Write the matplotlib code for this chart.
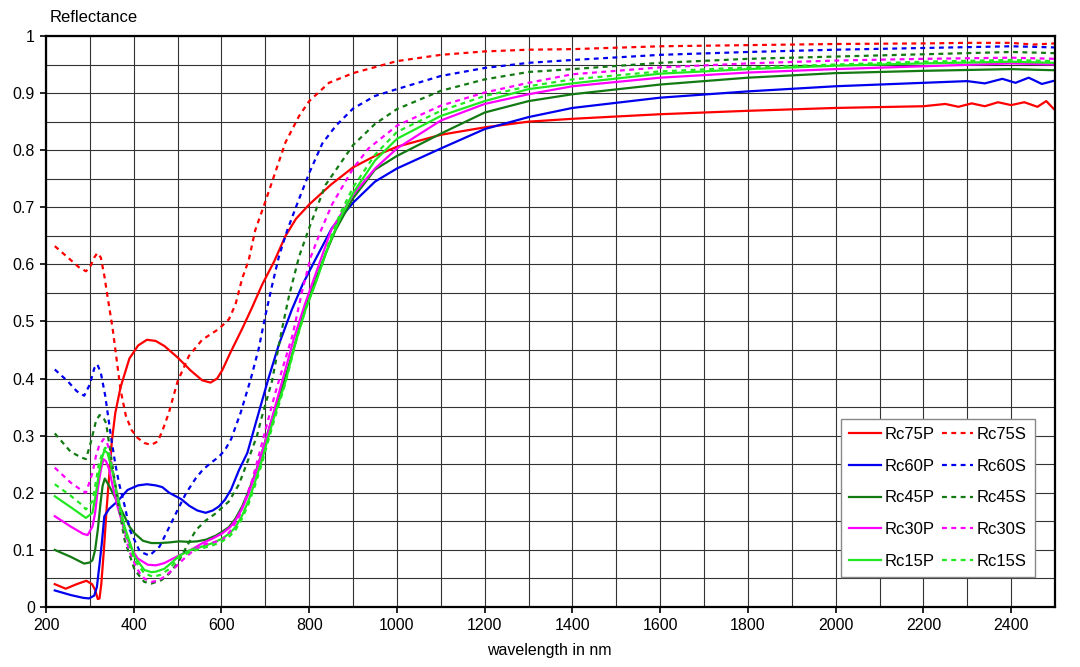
import matplotlib
matplotlib.use("Agg")
import matplotlib.pyplot as plt
from matplotlib.ticker import MultipleLocator, FuncFormatter

plt.rcParams['font.family'] = ['Liberation Sans', 'DejaVu Sans']

# ---------------- data (wavelength nm, reflectance) ----------------
wl_75P = [220, 245, 270, 292, 305, 312, 318, 322, 326, 332, 338, 344, 350, 358, 370, 390, 410, 430, 450, 470,
          500, 530, 556, 575, 590, 602, 620, 647, 670, 693, 720, 746, 770, 800, 850, 900, 950, 1000, 1100, 1200,
          1300, 1400, 1600, 1800, 2000, 2200, 2250, 2280, 2310, 2340, 2370, 2400, 2430, 2460, 2480, 2500]
r_75P = [0.040, 0.032, 0.040, 0.046, 0.040, 0.030, 0.014, 0.015, 0.040, 0.100, 0.170, 0.230, 0.290, 0.340, 0.385,
         0.435, 0.458, 0.468, 0.466, 0.457, 0.437, 0.414, 0.397, 0.393, 0.400, 0.415, 0.445, 0.487, 0.525, 0.565,
         0.605, 0.650, 0.680, 0.705, 0.740, 0.770, 0.790, 0.806, 0.827, 0.840, 0.850, 0.855, 0.863, 0.869, 0.874,
         0.877, 0.881, 0.876, 0.882, 0.877, 0.884, 0.879, 0.884, 0.876, 0.886, 0.870]

wl_75S = [220, 250, 275, 291, 300, 310, 317, 325, 333, 340, 352, 370, 382, 395, 409, 425, 440, 455, 466, 480,
          489, 500, 526, 556, 594, 617, 632, 647, 662, 677, 700, 723, 746, 777, 800, 845, 900, 1000, 1100, 1200,
          1300, 1400, 1600, 1800, 2000, 2200, 2300, 2400, 2450, 2500]
r_75S = [0.632, 0.612, 0.595, 0.588, 0.595, 0.612, 0.620, 0.612, 0.580, 0.545, 0.487, 0.380, 0.335, 0.310, 0.296,
         0.287, 0.284, 0.290, 0.310, 0.340, 0.365, 0.395, 0.440, 0.468, 0.487, 0.504, 0.530, 0.575, 0.607, 0.660,
         0.710, 0.762, 0.814, 0.860, 0.886, 0.918, 0.935, 0.956, 0.967, 0.973, 0.976, 0.977, 0.982, 0.984, 0.986,
         0.987, 0.988, 0.988, 0.985, 0.987]

wl_60P = [220, 256, 285, 298, 310, 316, 322, 327, 333, 344, 363, 386, 410, 430, 450, 465, 481, 508, 527, 545,
          564, 580, 594, 608, 622, 640, 659, 681, 707, 731, 760, 785, 815, 852, 900, 950, 1000, 1100, 1200, 1300,
          1400, 1600, 1800, 2000, 2200, 2300, 2340, 2380, 2410, 2440, 2470, 2500]
r_60P = [0.029, 0.021, 0.016, 0.015, 0.020, 0.035, 0.075, 0.110, 0.159, 0.172, 0.185, 0.205, 0.213, 0.215, 0.213,
         0.210, 0.200, 0.189, 0.177, 0.169, 0.165, 0.169, 0.176, 0.188, 0.206, 0.240, 0.270, 0.330, 0.400, 0.460,
         0.520, 0.565, 0.610, 0.664, 0.708, 0.745, 0.768, 0.803, 0.837, 0.858, 0.874, 0.892, 0.903, 0.912, 0.918,
         0.921, 0.917, 0.925, 0.918, 0.927, 0.916, 0.922]

wl_60S = [220, 250, 270, 287, 300, 310, 317, 325, 335, 348, 358, 367, 380, 391, 414, 436, 459, 481, 500, 519,
          541, 557, 575, 594, 608, 622, 644, 667, 685, 700, 715, 731, 750, 777, 800, 830, 861, 900, 950, 1000,
          1100, 1200, 1300, 1400, 1600, 1800, 2000, 2200, 2400, 2500]
r_60S = [0.416, 0.395, 0.378, 0.370, 0.390, 0.418, 0.425, 0.410, 0.370, 0.299, 0.250, 0.215, 0.175, 0.135, 0.097,
         0.090, 0.106, 0.140, 0.170, 0.199, 0.225, 0.240, 0.252, 0.263, 0.275, 0.294, 0.341, 0.400, 0.453, 0.510,
         0.562, 0.614, 0.660, 0.715, 0.760, 0.812, 0.843, 0.873, 0.895, 0.907, 0.930, 0.944, 0.953, 0.958, 0.967,
         0.972, 0.976, 0.979, 0.982, 0.980]

wl_45P = [220, 256, 287, 300, 306, 312, 318, 324, 329, 334, 341, 348, 360, 371, 391, 402, 421, 440, 459, 480,
          504, 526, 545, 565, 587, 602, 617, 632, 647, 662, 677, 692, 707, 722, 738, 765, 785, 808, 838, 860,
          900, 950, 1000, 1100, 1200, 1300, 1400, 1600, 1800, 2000, 2200, 2400, 2500]
r_45P = [0.100, 0.088, 0.076, 0.078, 0.082, 0.100, 0.135, 0.180, 0.212, 0.225, 0.216, 0.206, 0.188, 0.171, 0.140,
         0.129, 0.116, 0.112, 0.112, 0.113, 0.115, 0.114, 0.115, 0.118, 0.125, 0.132, 0.140, 0.155, 0.176, 0.203,
         0.234, 0.270, 0.309, 0.345, 0.383, 0.453, 0.510, 0.560, 0.620, 0.660, 0.716, 0.766, 0.790, 0.829, 0.866,
         0.886, 0.898, 0.915, 0.927, 0.935, 0.939, 0.942, 0.940]

wl_45S = [220, 256, 280, 291, 302, 314, 322, 330, 337, 348, 363, 379, 402, 424, 440, 463, 480, 501, 520, 542,
          565, 587, 617, 640, 662, 681, 692, 715, 738, 754, 777, 800, 837, 900, 950, 1000, 1100, 1200, 1300, 1400,
          1600, 1800, 2000, 2200, 2400, 2500]
r_45S = [0.304, 0.272, 0.262, 0.259, 0.288, 0.326, 0.336, 0.333, 0.322, 0.265, 0.188, 0.118, 0.065, 0.044, 0.041,
         0.047, 0.058, 0.078, 0.105, 0.135, 0.152, 0.164, 0.185, 0.215, 0.260, 0.300, 0.333, 0.395, 0.487, 0.545,
         0.614, 0.664, 0.739, 0.809, 0.846, 0.872, 0.904, 0.924, 0.937, 0.942, 0.953, 0.960, 0.964, 0.968, 0.972,
         0.970]

wl_30P = [220, 256, 285, 295, 306, 312, 318, 325, 331, 337, 344, 352, 363, 375, 386, 398, 409, 432, 451, 470,
          490, 508, 530, 557, 580, 602, 620, 632, 647, 662, 677, 692, 707, 722, 740, 765, 790, 815, 850, 900,
          950, 1000, 1100, 1200, 1300, 1400, 1600, 1800, 2000, 2200, 2400, 2500]
r_30P = [0.159, 0.141, 0.128, 0.126, 0.141, 0.165, 0.206, 0.240, 0.259, 0.255, 0.241, 0.212, 0.176, 0.145, 0.118,
         0.098, 0.085, 0.074, 0.073, 0.077, 0.085, 0.092, 0.100, 0.112, 0.120, 0.129, 0.140, 0.152, 0.172, 0.199,
         0.232, 0.269, 0.308, 0.350, 0.400, 0.470, 0.530, 0.584, 0.660, 0.722, 0.768, 0.803, 0.852, 0.881, 0.898,
         0.912, 0.927, 0.936, 0.942, 0.947, 0.952, 0.950]

wl_30S = [220, 256, 280, 291, 306, 314, 321, 331, 338, 344, 352, 360, 370, 379, 390, 402, 413, 424, 440, 455,
          470, 490, 508, 530, 557, 580, 602, 620, 640, 655, 670, 685, 700, 722, 740, 762, 785, 804, 827, 852,
          900, 935, 1000, 1100, 1200, 1300, 1400, 1600, 1800, 2000, 2200, 2400, 2500]
r_30S = [0.244, 0.218, 0.205, 0.200, 0.235, 0.265, 0.282, 0.294, 0.290, 0.276, 0.240, 0.200, 0.160, 0.129, 0.098,
         0.076, 0.060, 0.050, 0.044, 0.046, 0.053, 0.066, 0.080, 0.095, 0.109, 0.113, 0.117, 0.133, 0.158, 0.190,
         0.222, 0.265, 0.309, 0.373, 0.420, 0.476, 0.557, 0.614, 0.660, 0.705, 0.768, 0.803, 0.843, 0.878, 0.901,
         0.918, 0.933, 0.945, 0.952, 0.957, 0.960, 0.962, 0.960]

wl_15P = [220, 256, 280, 291, 306, 314, 321, 328, 333, 340, 344, 352, 360, 379, 402, 424, 440, 451, 470, 490,
          504, 530, 557, 580, 602, 620, 632, 647, 662, 677, 692, 707, 722, 746, 769, 792, 815, 846, 870, 900,
          950, 1000, 1100, 1200, 1300, 1400, 1600, 1800, 2000, 2200, 2400, 2500]
r_15P = [0.194, 0.175, 0.162, 0.156, 0.165, 0.200, 0.235, 0.262, 0.274, 0.270, 0.259, 0.235, 0.206, 0.141, 0.088,
         0.065, 0.061, 0.062, 0.067, 0.080, 0.090, 0.100, 0.106, 0.112, 0.120, 0.130, 0.140, 0.160, 0.187, 0.220,
         0.257, 0.298, 0.338, 0.395, 0.464, 0.522, 0.568, 0.637, 0.680, 0.725, 0.782, 0.820, 0.860, 0.886, 0.907,
         0.917, 0.934, 0.942, 0.948, 0.952, 0.955, 0.953]

wl_15S = [220, 256, 280, 291, 306, 314, 321, 329, 335, 340, 344, 352, 360, 379, 402, 424, 444, 460, 480, 504,
          530, 557, 580, 602, 620, 632, 647, 662, 677, 692, 707, 722, 745, 769, 792, 815, 846, 870, 900, 950,
          1000, 1100, 1200, 1300, 1400, 1600, 1800, 2000, 2200, 2400, 2500]
r_15S = [0.215, 0.195, 0.180, 0.171, 0.185, 0.220, 0.253, 0.270, 0.279, 0.275, 0.268, 0.240, 0.200, 0.133, 0.082,
         0.059, 0.053, 0.056, 0.066, 0.087, 0.097, 0.103, 0.108, 0.115, 0.125, 0.135, 0.155, 0.181, 0.214, 0.251,
         0.292, 0.332, 0.390, 0.462, 0.522, 0.570, 0.640, 0.688, 0.735, 0.792, 0.832, 0.869, 0.895, 0.912, 0.924,
         0.938, 0.945, 0.950, 0.955, 0.958, 0.956]

series_P = [("Rc75P", wl_75P, r_75P), ("Rc60P", wl_60P, r_60P), ("Rc45P", wl_45P, r_45P),
            ("Rc30P", wl_30P, r_30P), ("Rc15P", wl_15P, r_15P)]
series_S = [("Rc75S", wl_75S, r_75S), ("Rc60S", wl_60S, r_60S), ("Rc45S", wl_45S, r_45S),
            ("Rc30S", wl_30S, r_30S), ("Rc15S", wl_15S, r_15S)]
colors = ["#ff0000", "#0000ee", "#137a13", "#ff00ff", "#22e822"]

# ---------------- figure ----------------
fig = plt.figure(figsize=(10.8, 6.67), dpi=100)
ax = fig.add_axes([46 / 1080, 1 - 607 / 667, (1055 - 46) / 1080, (607 - 36) / 667])

ax.set_xlim(200, 2500)
ax.set_ylim(0, 1)
ax.xaxis.set_major_locator(MultipleLocator(200))
ax.xaxis.set_minor_locator(MultipleLocator(100))
ax.yaxis.set_major_locator(MultipleLocator(0.1))
ax.yaxis.set_minor_locator(MultipleLocator(0.05))
ax.yaxis.set_major_formatter(FuncFormatter(lambda v, p: "%g" % round(v, 2)))
ax.grid(True, which="both", color="#333333", linewidth=0.8)
ax.set_axisbelow(True)
ax.tick_params(which="major", direction="out", length=4, width=1.2, labelsize=11.5, pad=4)
ax.tick_params(which="minor", length=0)
for s in ax.spines.values():
    s.set_linewidth(1.6)
    s.set_color("black")

handles = []
for (name, wl, r), c in zip(series_P, colors):
    h, = ax.plot(wl, r, color=c, lw=1.6, label=name, solid_joinstyle="round")
    handles.append(h)
for (name, wl, r), c in zip(series_S, colors):
    h, = ax.plot(wl, r, color=c, lw=1.6, label=name, linestyle=(0, (2.2, 2.0)))
    handles.append(h)

leg = ax.legend(handles=handles, ncol=2, loc="lower right", bbox_to_anchor=(1035 / 1080, 1 - 577 / 667),
                bbox_transform=fig.transFigure, fontsize=12, frameon=True, fancybox=False,
                edgecolor="#888888", framealpha=1, borderpad=0.5, labelspacing=1.0,
                handlelength=1.9, handletextpad=0.2, columnspacing=0.45, borderaxespad=0)
leg.get_frame().set_linewidth(1.0)

fig.text(50 / 1080, 1 - 18 / 667, "Reflectance", fontsize=12, ha="left", va="center")
fig.text(549 / 1080, 1 - 650 / 667, "wavelength in nm", fontsize=11.5, ha="center", va="center")

fig.savefig("out.png", dpi=100)
